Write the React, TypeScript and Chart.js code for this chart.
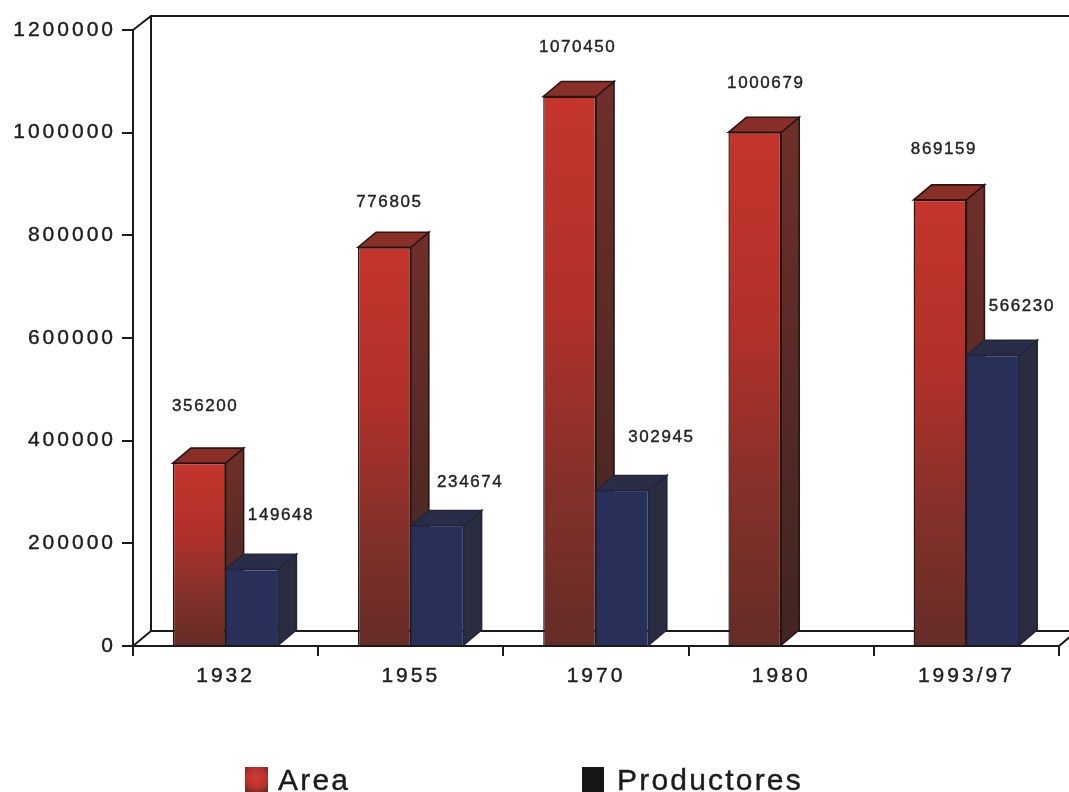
import React, { useEffect, useRef } from "react";
import Chart from "chart.js/auto";

const years = ["1932", "1955", "1970", "1980", "1993/97"];
const areaValues = [356200, 776805, 1070450, 1000679, 869159];
const productoresValues = [149648, 234674, 302945, null, 566230];
const yTicks = [0, 200000, 400000, 600000, 800000, 1000000, 1200000];

// Depth of the 3D extrusion and hand placement of the value labels
const DEPTH_X = 18;
const DEPTH_Y = 15;
const areaLabelLift = [57, 45, 49, 49, 51];
const areaLabelShift = [6, 5, 8, 11, 4];
const prodLabelLift = [54, 43, 53, 0, 49];
const prodLabelShift = [29, 33, 39, 0, 29];

const INK = "#1c1c1c";

function faces(ctx: CanvasRenderingContext2D, el: any, side: any, top: string, edge: string) {
  const { x, y, base, width } = el;
  const r = x + width / 2;
  ctx.lineWidth = 1.6;
  ctx.strokeStyle = edge;
  ctx.fillStyle = side;
  ctx.beginPath();
  ctx.moveTo(r, y);
  ctx.lineTo(r + DEPTH_X, y - DEPTH_Y);
  ctx.lineTo(r + DEPTH_X, base - DEPTH_Y);
  ctx.lineTo(r, base);
  ctx.closePath();
  ctx.fill();
  ctx.stroke();
  ctx.fillStyle = top;
  ctx.beginPath();
  ctx.moveTo(x - width / 2, y);
  ctx.lineTo(x - width / 2 + DEPTH_X, y - DEPTH_Y);
  ctx.lineTo(r + DEPTH_X, y - DEPTH_Y);
  ctx.lineTo(r, y);
  ctx.closePath();
  ctx.fill();
  ctx.stroke();
}

const threeD = {
  id: "threeD",
  beforeDraw(chart: any) {
    const ctx = chart.ctx;
    ctx.fillStyle = "#ffffff";
    ctx.fillRect(0, 0, chart.width, chart.height);
    ctx.letterSpacing = "3px";
  },
  beforeDatasetsDraw(chart: any) {
    const ctx: CanvasRenderingContext2D = chart.ctx;
    const { left, right, top, bottom } = chart.chartArea;
    ctx.save();
    // walls and floor
    ctx.strokeStyle = "#1a1a1a";
    ctx.lineWidth = 2;
    ctx.beginPath();
    ctx.moveTo(left, top);
    ctx.lineTo(left + DEPTH_X, top - DEPTH_Y + 1);
    ctx.lineTo(chart.width, top - DEPTH_Y + 1);
    ctx.moveTo(left + DEPTH_X, top - DEPTH_Y + 1);
    ctx.lineTo(left + DEPTH_X, bottom - DEPTH_Y);
    ctx.lineTo(chart.width, bottom - DEPTH_Y);
    ctx.moveTo(left + DEPTH_X, bottom - DEPTH_Y);
    ctx.lineTo(left, bottom);
    ctx.moveTo(right, bottom);
    ctx.lineTo(right + DEPTH_X, bottom - DEPTH_Y);
    ctx.stroke();
    // extruded faces, red first so the blue bars overlap them
    const redMeta = chart.getDatasetMeta(0);
    redMeta.data.forEach((el: any) => {
      const g = ctx.createLinearGradient(0, el.y, 0, el.base);
      g.addColorStop(0, "#6e2f2a");
      g.addColorStop(1, "#3f2521");
      faces(ctx, el, g, "#8a2e28", "#2a1614");
    });
    const blueMeta = chart.getDatasetMeta(1);
    blueMeta.data.forEach((el: any, i: number) => {
      if (productoresValues[i] == null) return;
      faces(ctx, el, "#2a2d40", "#2a2d48", "#23253a");
    });
    ctx.restore();
  },
  afterDatasetsDraw(chart: any) {
    const ctx: CanvasRenderingContext2D = chart.ctx;
    ctx.save();
    ctx.letterSpacing = "1.6px";
    ctx.font = "17px 'Liberation Sans'";
    ctx.fillStyle = "#222";
    ctx.strokeStyle = "#222";
    ctx.lineWidth = 0.4;
    ctx.textAlign = "center";
    ctx.textBaseline = "middle";
    const put = (text: string, x: number, y: number) => {
      ctx.fillText(text, x, y);
      ctx.strokeText(text, x, y);
    };
    chart.getDatasetMeta(0).data.forEach((el: any, i: number) => {
      put(String(areaValues[i]), el.x + areaLabelShift[i], el.y - areaLabelLift[i]);
    });
    chart.getDatasetMeta(1).data.forEach((el: any, i: number) => {
      const v = productoresValues[i];
      if (v == null) return;
      put(String(v), el.x + prodLabelShift[i], el.y - prodLabelLift[i]);
    });
    ctx.restore();
  },
  afterDraw(chart: any) {
    const ctx: CanvasRenderingContext2D = chart.ctx;
    ctx.save();
    ctx.letterSpacing = "2.2px";
    ctx.font = "30px 'Liberation Sans'";
    ctx.textBaseline = "alphabetic";
    ctx.textAlign = "left";
    ctx.strokeStyle = INK;
    ctx.lineWidth = 0.4;
    const entries = [
      { box: 245, w: 23, text: 278 },
      { box: 582, w: 22, text: 617 },
    ];
    chart.data.datasets.forEach((ds: any, i: number) => {
      const e = entries[i];
      if (i === 0) {
        const g = ctx.createRadialGradient(e.box + e.w / 2, 778, 2, e.box + e.w / 2, 778, 16);
        g.addColorStop(0, "#cc3a34");
        g.addColorStop(0.6, "#b8302c");
        g.addColorStop(1, "#6a2a26");
        ctx.fillStyle = g;
      } else {
        ctx.fillStyle = "#161616";
      }
      ctx.fillRect(e.box, 767, e.w, 25);
      ctx.fillStyle = INK;
      ctx.fillText(ds.label, e.text, 790);
      ctx.strokeText(ds.label, e.text, 790);
    });
    ctx.restore();
  },
};

function redFront(c: any) {
  const chart = c.chart;
  const s = chart.scales?.y;
  if (!s || c.raw == null) return "#b52d27";
  const y0 = s.getPixelForValue(c.raw);
  const y1 = s.getPixelForValue(0);
  if (!Number.isFinite(y0) || !Number.isFinite(y1)) return "#b52d27";
  const g = chart.ctx.createLinearGradient(0, y0, 0, y1);
  g.addColorStop(0, "#c4352c");
  g.addColorStop(0.4, "#b0302a");
  g.addColorStop(0.7, "#85302a");
  g.addColorStop(1, "#652c27");
  return g;
}

const tickText = {
  font: { family: "'Liberation Sans'", size: 21 },
  color: INK,
  textStrokeColor: INK,
  textStrokeWidth: 0.4,
};

export default function App() {
  const ref = useRef<HTMLCanvasElement>(null);
  useEffect(() => {
    if (!ref.current) return;
    const chart = new Chart(ref.current, {
      type: "bar",
      data: {
        labels: years,
        datasets: [
          {
            label: "Area",
            data: areaValues,
            backgroundColor: redFront,
            borderColor: "#1e1412",
            borderWidth: 1.4,
          },
          {
            label: "Productores",
            data: productoresValues,
            backgroundColor: "#28305a",
            borderColor: "#22264a",
            borderWidth: 1.2,
          },
        ],
      },
      options: {
        responsive: false,
        animation: false,
        devicePixelRatio: 1,
        layout: { padding: { left: 0, top: 30, right: 10, bottom: 106 } },
        datasets: { bar: { categoryPercentage: 0.57, barPercentage: 1 } },
        plugins: { legend: { display: false }, tooltip: { enabled: false } },
        scales: {
          x: {
            afterFit: (s: any) => {
              s.height = 40;
            },
            grid: { drawOnChartArea: false, tickLength: 10, color: "#1a1a1a", lineWidth: 2 },
            border: { color: "#1a1a1a", width: 2 },
            ticks: { ...tickText, padding: 8, maxRotation: 0 },
          },
          y: {
            min: 0,
            max: 1200000,
            afterFit: (s: any) => {
              s.width = 133;
            },
            afterBuildTicks: (s: any) => {
              s.ticks = yTicks.map((value) => ({ value }));
            },
            grid: { drawOnChartArea: false, tickLength: 11, color: "#1a1a1a", lineWidth: 2 },
            border: { color: "#1a1a1a", width: 2 },
            ticks: {
              ...tickText,
              padding: 6,
              callback: (v: any) => String(v),
            },
          },
        },
      },
      plugins: [threeD],
    } as any);
    return () => chart.destroy();
  }, []);
  return (
    <div style={{ position: "absolute", left: 0, top: 0, width: 1069, height: 792 }}>
      <canvas ref={ref} width={1069} height={792} style={{ display: "block" }} />
    </div>
  );
}
